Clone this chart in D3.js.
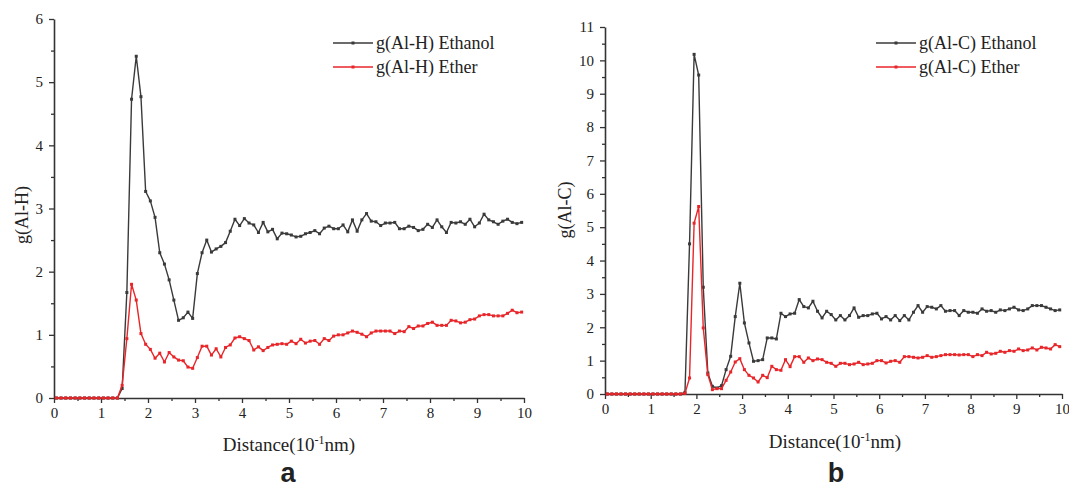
<!DOCTYPE html>
<html>
<head>
<meta charset="utf-8">
<script src="https://cdn.jsdelivr.net/npm/d3@7"></script>
<style>
  body { margin: 0; background: #fff; }
  svg text { fill: #222; font-family: "Liberation Serif", "Times New Roman", serif; }
  svg text.tag { font-family: "Liberation Sans", Arial, sans-serif; }
</style>
</head>
<body>
<script>
// sampled distance (10^-1 nm), bin centres
const distance = [
  0.05, 0.15, 0.25, 0.35, 0.45, 0.55, 0.65, 0.75, 0.85, 0.95,
  1.05, 1.15, 1.25, 1.35, 1.45, 1.55, 1.65, 1.75, 1.85, 1.95,
  2.05, 2.15, 2.25, 2.35, 2.45, 2.55, 2.65, 2.75, 2.85, 2.95,
  3.05, 3.15, 3.25, 3.35, 3.45, 3.55, 3.65, 3.75, 3.85, 3.95,
  4.05, 4.15, 4.25, 4.35, 4.45, 4.55, 4.65, 4.75, 4.85, 4.95,
  5.05, 5.15, 5.25, 5.35, 5.45, 5.55, 5.65, 5.75, 5.85, 5.95,
  6.05, 6.15, 6.25, 6.35, 6.45, 6.55, 6.65, 6.75, 6.85, 6.95,
  7.05, 7.15, 7.25, 7.35, 7.45, 7.55, 7.65, 7.75, 7.85, 7.95,
  8.05, 8.15, 8.25, 8.35, 8.45, 8.55, 8.65, 8.75, 8.85, 8.95,
  9.05, 9.15, 9.25, 9.35, 9.45, 9.55, 9.65, 9.75, 9.85, 9.95
];

// panel a: g(Al-H)
const alhEthanol = [
  0, 0, 0, 0, 0, 0, 0, 0, 0, 0,
  0, 0, 0, 0, 0.15, 1.67, 4.73, 5.41, 4.77, 3.27,
  3.12, 2.86, 2.30, 2.12, 1.87, 1.55, 1.23, 1.27, 1.36, 1.26,
  1.97, 2.30, 2.50, 2.31, 2.36, 2.40, 2.46, 2.64, 2.83, 2.73,
  2.84, 2.77, 2.74, 2.62, 2.78, 2.63, 2.67, 2.52, 2.61, 2.60,
  2.58, 2.55, 2.56, 2.60, 2.62, 2.65, 2.60, 2.69, 2.72, 2.68,
  2.68, 2.74, 2.63, 2.82, 2.64, 2.82, 2.92, 2.80, 2.79, 2.73,
  2.77, 2.77, 2.78, 2.68, 2.68, 2.72, 2.70, 2.65, 2.67, 2.75,
  2.70, 2.82, 2.71, 2.62, 2.78, 2.77, 2.79, 2.75, 2.83, 2.71,
  2.77, 2.91, 2.82, 2.79, 2.75, 2.80, 2.83, 2.78, 2.76, 2.78
];
const alhEther = [
  0, 0, 0, 0, 0, 0, 0, 0, 0, 0,
  0, 0, 0, 0, 0.20, 0.94, 1.80, 1.55, 1.02, 0.85,
  0.77, 0.63, 0.71, 0.57, 0.72, 0.65, 0.60, 0.59, 0.49, 0.47,
  0.64, 0.82, 0.82, 0.68, 0.78, 0.65, 0.80, 0.84, 0.95, 0.97,
  0.94, 0.91, 0.76, 0.81, 0.75, 0.80, 0.84, 0.85, 0.86, 0.85,
  0.90, 0.86, 0.93, 0.87, 0.90, 0.91, 0.85, 0.94, 0.91, 0.98,
  1.00, 1.00, 1.03, 1.06, 1.04, 1.01, 0.97, 1.03, 1.06, 1.06,
  1.06, 1.06, 1.02, 1.06, 1.05, 1.13, 1.10, 1.14, 1.14, 1.18,
  1.20, 1.15, 1.15, 1.15, 1.23, 1.22, 1.19, 1.20, 1.24, 1.25,
  1.30, 1.32, 1.32, 1.30, 1.30, 1.30, 1.34, 1.39, 1.35, 1.36
];

// panel b: g(Al-C)
const alcEthanol = [
  0, 0, 0, 0, 0, 0, 0, 0, 0, 0,
  0, 0, 0, 0, 0, 0, 0, 0.05, 4.5, 10.18,
  9.56, 3.20, 0.63, 0.23, 0.18, 0.25, 0.73, 1.13, 2.32, 3.32,
  2.13, 1.53, 0.98, 1.00, 1.03, 1.68, 1.68, 1.65, 2.42, 2.32,
  2.40, 2.42, 2.83, 2.62, 2.58, 2.78, 2.48, 2.28, 2.48, 2.38,
  2.22, 2.35, 2.22, 2.35, 2.58, 2.30, 2.35, 2.35, 2.40, 2.42,
  2.25, 2.32, 2.22, 2.35, 2.20, 2.35, 2.22, 2.45, 2.65, 2.45,
  2.62, 2.60, 2.55, 2.65, 2.48, 2.50, 2.50, 2.35, 2.50, 2.45,
  2.45, 2.42, 2.55, 2.48, 2.50, 2.45, 2.52, 2.50, 2.55, 2.60,
  2.52, 2.50, 2.55, 2.65, 2.65, 2.65, 2.60, 2.55, 2.50, 2.52
];
const alcEther = [
  0, 0, 0, 0, 0, 0, 0, 0, 0, 0,
  0, 0, 0, 0, 0, 0, 0, 0.02, 0.48, 5.12,
  5.62, 1.98, 0.58, 0.13, 0.16, 0.16, 0.41, 0.66, 0.96, 1.06,
  0.73, 0.56, 0.48, 0.36, 0.56, 0.49, 0.83, 0.73, 0.71, 1.03,
  0.82, 1.12, 1.12, 0.95, 1.08, 1.00, 1.05, 1.03, 0.95, 0.92,
  0.83, 0.92, 0.92, 0.88, 0.90, 0.95, 0.88, 0.90, 0.92, 1.00,
  1.00, 0.93, 0.98, 1.00, 0.95, 1.12, 1.12, 1.10, 1.08, 1.10,
  1.15, 1.10, 1.12, 1.15, 1.18, 1.18, 1.18, 1.17, 1.18, 1.18,
  1.12, 1.18, 1.15, 1.25, 1.20, 1.22, 1.28, 1.25, 1.30, 1.28,
  1.35, 1.30, 1.32, 1.38, 1.32, 1.40, 1.38, 1.35, 1.48, 1.42
];

const xTicks = [0, 1, 2, 3, 4, 5, 6, 7, 8, 9, 10];
const yTicksA = [0, 1, 2, 3, 4, 5, 6];
const yTicksB = [0, 1, 2, 3, 4, 5, 6, 7, 8, 9, 10, 11];
const legendA = ['g(Al-H) Ethanol', 'g(Al-H) Ether'];
const legendB = ['g(Al-C) Ethanol', 'g(Al-C) Ether'];

const width = 1069;
const height = 488;
const colors = ['#3a3a3a', '#e8262a'];
const serif = '"Liberation Serif", "Times New Roman", serif';

const svg = d3.select('body').append('svg')
    .attr('width', width)
    .attr('height', height)
    .attr('font-family', serif);

function drawPanel(p) {
    const x = d3.scaleLinear().domain([0, 10]).range(p.xRange);
    const y = d3.scaleLinear().domain([0, p.yMax]).range(p.yRange);
    const g = svg.append('g');

    const halfX = d3.range(0.5, 10, 1);
    const halfY = d3.range(0.5, p.yMax, 1);

    // minor ticks
    g.append('g')
        .attr('transform', `translate(0,${p.yRange[0]})`)
        .call(d3.axisBottom(x).tickValues(halfX).tickSize(3).tickFormat(''))
        .call(a => a.select('.domain').remove());
    g.append('g')
        .attr('transform', `translate(${p.xRange[0]},0)`)
        .call(d3.axisLeft(y).tickValues(halfY).tickSize(3).tickFormat(''))
        .call(a => a.select('.domain').remove());

    const xAxis = g.append('g')
        .attr('transform', `translate(0,${p.yRange[0]})`)
        .call(d3.axisBottom(x).tickValues(xTicks).tickFormat(d3.format('d'))
            .tickSize(5).tickSizeOuter(0).tickPadding(4));
    const yAxis = g.append('g')
        .attr('transform', `translate(${p.xRange[0]},0)`)
        .call(d3.axisLeft(y).tickValues(p.yTicks).tickFormat(d3.format('d'))
            .tickSize(5).tickSizeOuter(0).tickPadding(6));

    g.selectAll('.domain').attr('stroke', '#333').attr('stroke-width', 1.6);
    g.selectAll('.tick line').attr('stroke', '#333').attr('stroke-width', 1.3);
    [xAxis, yAxis].forEach(a => {
        a.attr('font-family', serif).attr('font-size', 15);
        a.selectAll('text').attr('font-size', 15).attr('fill', '#222');
    });

    const line = d3.line()
        .x((d, i) => x(distance[i]))
        .y(d => y(d));

    p.series.forEach((s, si) => {
        g.append('path')
            .datum(s)
            .attr('fill', 'none')
            .attr('stroke', colors[si])
            .attr('stroke-width', 1.4)
            .attr('stroke-linejoin', 'round')
            .attr('d', line);
        g.append('g').selectAll('rect')
            .data(s)
            .join('rect')
            .attr('x', (d, i) => x(distance[i]) - 1.5)
            .attr('y', d => y(d) - 1.5)
            .attr('width', 3)
            .attr('height', 3)
            .attr('fill', colors[si]);
    });

    // legend
    const lg = g.append('g');
    p.legend.forEach((label, i) => {
        const ly = p.legendY + i * 24;
        lg.append('line')
            .attr('x1', p.legendX).attr('x2', p.legendX + 40)
            .attr('y1', ly).attr('y2', ly)
            .attr('stroke', colors[i]).attr('stroke-width', 1.4);
        lg.append('rect')
            .attr('x', p.legendX + 18.5).attr('y', ly - 1.5)
            .attr('width', 3).attr('height', 3)
            .attr('fill', colors[i]);
        lg.append('text')
            .attr('x', p.legendX + 43).attr('y', ly)
            .attr('dy', '0.35em')
            .attr('font-size', 18)
            .text(label);
    });

    // axis titles
    g.append('text')
        .attr('transform', `translate(${p.yLabelX},${p.yLabelY}) rotate(-90)`)
        .attr('text-anchor', 'middle')
        .attr('dy', '0.35em')
        .attr('font-size', 18)
        .text(p.yLabel);

    const xt = g.append('text')
        .attr('x', p.xLabelX)
        .attr('y', p.xLabelY)
        .attr('text-anchor', 'middle')
        .attr('font-size', 19);
    xt.append('tspan').text('Distance(10');
    xt.append('tspan').attr('dy', -7).attr('font-size', 12).text('-1');
    xt.append('tspan').attr('dy', 7).text('nm)');

    g.append('text')
        .attr('class', 'tag')
        .attr('x', p.tagX)
        .attr('y', p.tagY)
        .attr('text-anchor', 'middle')
        .attr('font-weight', 'bold')
        .attr('font-size', 27)
        .text(p.tag);
}

drawPanel({
    xRange: [54, 524], yRange: [398, 19], yMax: 6, yTicks: yTicksA,
    series: [alhEthanol, alhEther], legend: legendA,
    legendX: 333, legendY: 43,
    yLabel: 'g(Al-H)', yLabelX: 22, yLabelY: 215,
    xLabelX: 289, xLabelY: 451, tag: 'a', tagX: 288, tagY: 482
});

drawPanel({
    xRange: [605, 1062], yRange: [394, 27], yMax: 11, yTicks: yTicksB,
    series: [alcEthanol, alcEther], legend: legendB,
    legendX: 876, legendY: 43,
    yLabel: 'g(Al-C)', yLabelX: 565, yLabelY: 210,
    xLabelX: 835, xLabelY: 448, tag: 'b', tagX: 836, tagY: 482
});
</script>
</body>
</html>
